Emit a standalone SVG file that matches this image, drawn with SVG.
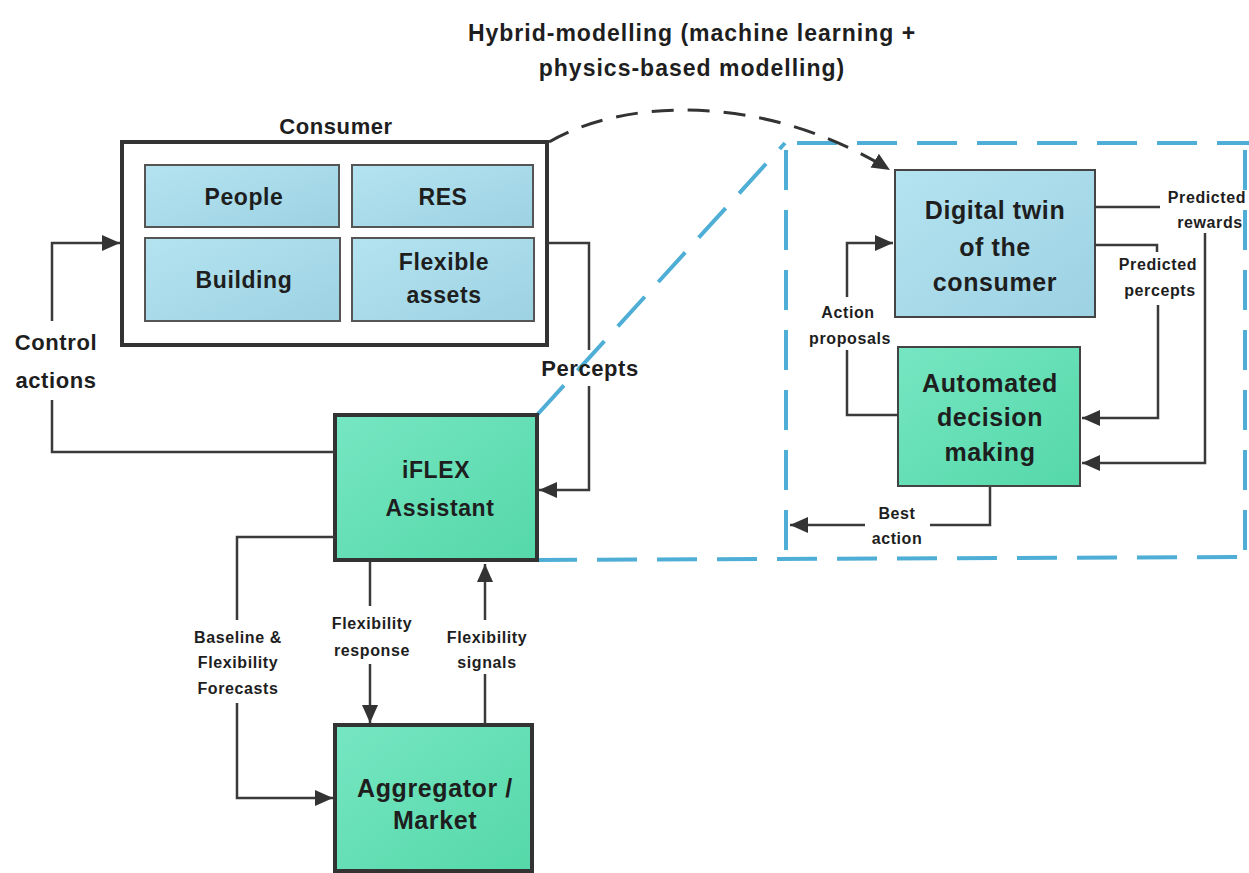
<svg xmlns="http://www.w3.org/2000/svg" width="1249" height="873" viewBox="0 0 1249 873">
<defs>
<linearGradient id="gBlue" x1="0" y1="0" x2="1" y2="1">
<stop offset="0" stop-color="#b4e3f0"/><stop offset="1" stop-color="#9dd2e3"/>
</linearGradient>
<linearGradient id="gGreen" x1="0" y1="0" x2="1" y2="1">
<stop offset="0" stop-color="#76e6c2"/><stop offset="1" stop-color="#55d8a9"/>
</linearGradient>
<marker id="arr" markerUnits="userSpaceOnUse" markerWidth="20" markerHeight="18" refX="18" refY="8" orient="auto">
<path d="M0,0 L18,8 L0,16 z" fill="#333"/>
</marker>
<style>
text{font-family:"Liberation Sans",Arial,sans-serif;font-weight:bold;fill:#1e1e1e;text-anchor:middle}
.big{font-size:23px;letter-spacing:0.6px}
.xl{font-size:25px;letter-spacing:0.6px}
.mid{font-size:22px;letter-spacing:0.6px}
.sm{font-size:16px;letter-spacing:0.6px}
.title{font-size:23px;letter-spacing:1px}
.blue{fill:url(#gBlue);stroke:#555;stroke-width:2}
.green{fill:url(#gGreen);stroke:#333;stroke-width:4}
.conn{fill:none;stroke:#3a3a3a;stroke-width:2.5}
.bd{fill:none;stroke:#4eaed6;stroke-width:4;stroke-dasharray:40 20}
</style>
</defs>
<rect width="1249" height="873" fill="#fff"/>

<g id="title">
<text class="title" x="692" y="41">Hybrid-modelling (machine learning +</text>
<text class="title" x="692" y="76">physics-based modelling)</text>
</g>

<g id="zoom-frame">
<path class="bd" d="M537,415 L785,143"/>
<path class="bd" d="M537,560 L1249,557"/>
<path class="bd" d="M797,143 H1249"/>
<path class="bd" d="M786,150 V557"/>
<path class="bd" d="M1245,150 V557"/>
</g>

<g id="consumer">
<rect x="122" y="142" width="425" height="203" fill="#fff" stroke="#333" stroke-width="4"/>
<text class="mid" x="336" y="134">Consumer</text>
</g>
<g id="people">
<rect class="blue" x="145" y="165" width="194" height="62"/>
<text class="big" x="244" y="205">People</text>
</g>
<g id="res">
<rect class="blue" x="352" y="165" width="181" height="62"/>
<text class="big" x="443" y="205">RES</text>
</g>
<g id="building">
<rect class="blue" x="145" y="238" width="195" height="83"/>
<text class="big" x="244" y="288">Building</text>
</g>
<g id="flexible-assets">
<rect class="blue" x="352" y="238" width="182" height="83"/>
<text class="big" x="444" y="270">Flexible</text>
<text class="big" x="444" y="303">assets</text>
</g>

<g id="iflex">
<rect class="green" x="335" y="415" width="202" height="145"/>
<text class="big" x="436" y="478">iFLEX</text>
<text class="big" x="440" y="516">Assistant</text>
</g>

<g id="aggregator">
<rect class="green" x="335" y="725" width="197" height="146"/>
<text class="xl" x="435" y="797">Aggregator /</text>
<text class="xl" x="435" y="829">Market</text>
</g>

<g id="digital-twin">
<rect x="895" y="170" width="200" height="147" fill="url(#gBlue)" stroke="#444" stroke-width="2"/>
<text class="xl" x="995" y="219">Digital twin</text>
<text class="xl" x="995" y="256">of the</text>
<text class="xl" x="995" y="291">consumer</text>
</g>

<g id="decision">
<rect x="898" y="347" width="182" height="139" fill="url(#gGreen)" stroke="#444" stroke-width="2"/>
<text class="xl" x="990" y="392">Automated</text>
<text class="xl" x="990" y="426">decision</text>
<text class="xl" x="990" y="461">making</text>
</g>

<g id="connectors">
<path class="conn" d="M335,452 H52 V400"/>
<path class="conn" d="M52,321 V243 H120" marker-end="url(#arr)"/>
<text class="mid" x="56" y="350">Control</text>
<text class="mid" x="56" y="388">actions</text>

<path class="conn" d="M547,243 H589 V350"/>
<path class="conn" d="M589,386 V490 H539" marker-end="url(#arr)"/>
<text class="mid" x="590" y="376">Percepts</text>

<path d="M549,142 C620,100 760,90 890,170" fill="none" stroke="#333" stroke-width="3" stroke-dasharray="22 14" marker-end="url(#arr)"/>

<path class="conn" d="M1095,207 H1160"/>
<path class="conn" d="M1205,233 V463 H1082" marker-end="url(#arr)"/>
<text class="sm" x="1207" y="203">Predicted</text>
<text class="sm" x="1210" y="228">rewards</text>

<path class="conn" d="M1095,245 H1157 V252"/>
<path class="conn" d="M1158,305 V418 H1082" marker-end="url(#arr)"/>
<text class="sm" x="1158" y="270">Predicted</text>
<text class="sm" x="1160" y="296">percepts</text>

<path class="conn" d="M898,415 H847 V350"/>
<path class="conn" d="M847,297 V243 H893" marker-end="url(#arr)"/>
<text class="sm" x="848" y="318">Action</text>
<text class="sm" x="850" y="344">proposals</text>

<path class="conn" d="M990,487 V525 H930"/>
<path class="conn" d="M865,525 H790" marker-end="url(#arr)"/>
<text class="sm" x="897" y="519">Best</text>
<text class="sm" x="897" y="544">action</text>

<path class="conn" d="M335,537 H237 V620"/>
<path class="conn" d="M237,703 V798 H333" marker-end="url(#arr)"/>
<text class="sm" x="238" y="643">Baseline &amp;</text>
<text class="sm" x="238" y="668">Flexibility</text>
<text class="sm" x="238" y="694">Forecasts</text>

<path class="conn" d="M370,562 V606"/>
<path class="conn" d="M370,664 V723" marker-end="url(#arr)"/>
<text class="sm" x="372" y="629">Flexibility</text>
<text class="sm" x="372" y="656">response</text>

<path class="conn" d="M485,725 V674"/>
<path class="conn" d="M485,620 V564" marker-end="url(#arr)"/>
<text class="sm" x="487" y="643">Flexibility</text>
<text class="sm" x="487" y="668">signals</text>
</g>
</svg>
